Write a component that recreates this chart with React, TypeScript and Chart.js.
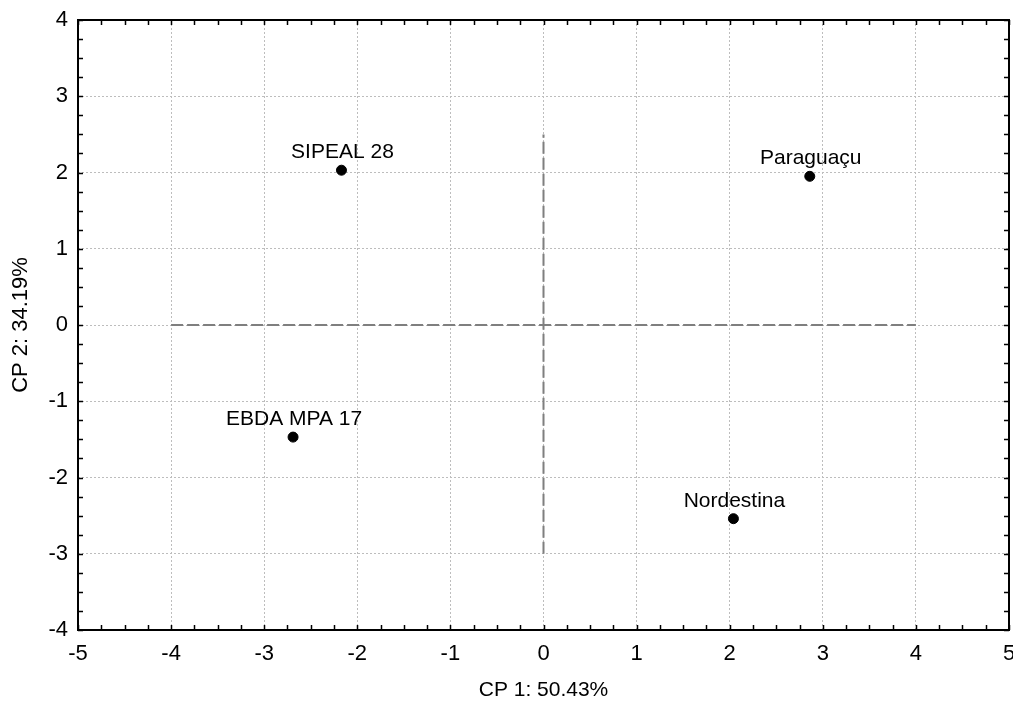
import React, { useEffect, useRef } from "react";
import { Chart, registerables } from "chart.js";

Chart.register(...registerables);

const genotypes = ["SIPEAL 28", "Paraguaçu", "EBDA MPA 17", "Nordestina"];
const cp1Values = [-2.17, 2.86, -2.69, 2.04];
const cp2Values = [2.03, 1.95, -1.47, -2.54];

const hRefX = [-4, 4];
const hRefY = [0, 0];
const vRefX = [0, 0];
const vRefY = [-3, 2.5];

const xAxisTitle = "CP 1: 50.43%";
const yAxisTitle = "CP 2: 34.19%";
const xRange = [-5, 5];
const yRange = [-4, 4];
const minorStep = 0.25;

const FONT = "'Liberation Sans', Arial, sans-serif";

const frameAndLabels = {
  id: "frameAndLabels",
  afterDatasetsDraw(chart: any) {
    const { ctx, chartArea, scales } = chart;
    const xs = scales.x;
    const ys = scales.y;
    ctx.save();
    const meta = chart.getDatasetMeta(2);
    ctx.fillStyle = "#000";
    ctx.font = `21px ${FONT}`;
    ctx.textAlign = "center";
    ctx.textBaseline = "alphabetic";
    meta.data.forEach((el: any, i: number) => {
      ctx.fillText(genotypes[i], el.x + 1, el.y - 12);
    });
    ctx.strokeStyle = "#000";
    ctx.lineWidth = 1.5;
    const len = 5;
    for (let v = xRange[0]; v <= xRange[1] + 1e-9; v += minorStep) {
      const px = Math.round(xs.getPixelForValue(v)) + 0.5;
      ctx.beginPath();
      ctx.moveTo(px, chartArea.bottom);
      ctx.lineTo(px, chartArea.bottom - len);
      ctx.moveTo(px, chartArea.top);
      ctx.lineTo(px, chartArea.top + len);
      ctx.stroke();
    }
    for (let v = yRange[0]; v <= yRange[1] + 1e-9; v += minorStep) {
      const py = Math.round(ys.getPixelForValue(v)) + 0.5;
      ctx.beginPath();
      ctx.moveTo(chartArea.left, py);
      ctx.lineTo(chartArea.left + len, py);
      ctx.moveTo(chartArea.right, py);
      ctx.lineTo(chartArea.right - len, py);
      ctx.stroke();
    }
    ctx.lineWidth = 2;
    ctx.strokeRect(
      chartArea.left,
      chartArea.top,
      chartArea.right - chartArea.left,
      chartArea.bottom - chartArea.top
    );
    ctx.restore();
  },
};

export default function App() {
  const canvasRef = useRef<HTMLCanvasElement | null>(null);

  useEffect(() => {
    if (!canvasRef.current) return;
    const points = cp1Values.map((x, i) => ({ x, y: cp2Values[i] }));
    const hLine = hRefX.map((x, i) => ({ x, y: hRefY[i] }));
    const vLine = vRefX.map((x, i) => ({ x, y: vRefY[i] }));

    const chart = new Chart(canvasRef.current, {
      type: "scatter",
      data: {
        datasets: [
          {
            data: hLine,
            showLine: true,
            borderColor: "#7f7f7f",
            borderWidth: 2,
            borderDash: [12, 4],
            pointRadius: 0,
          },
          {
            data: vLine,
            showLine: true,
            borderColor: "#7f7f7f",
            borderWidth: 2,
            borderDash: [12, 4],
            pointRadius: 0,
          },
          {
            data: points,
            backgroundColor: "#000",
            borderColor: "#000",
            pointRadius: 5,
            pointHoverRadius: 5,
          },
        ],
      } as any,
      options: {
        animation: false,
        responsive: true,
        maintainAspectRatio: false,
        devicePixelRatio: 1,
        layout: { autoPadding: false, padding: { top: 20, right: 4, left: 0, bottom: 0 } },
        plugins: {
          legend: { display: false },
          tooltip: { enabled: false },
        },
        scales: {
          x: {
            type: "linear",
            min: xRange[0],
            max: xRange[1],
            ticks: {
              stepSize: 1,
              color: "#000",
              padding: 11,
              font: { family: FONT, size: 22 },
            },
            grid: {
              color: "#bdbdbd",
              lineWidth: 1,
              drawTicks: false,
            },
            border: { display: false, dash: [2, 2] },
            title: {
              display: true,
              text: xAxisTitle,
              color: "#000",
              font: { family: FONT, size: 21, lineHeight: 1 },
              padding: { top: 0, bottom: 0 },
            },
            afterFit: (s: any) => {
              s.height = 71;
              s.paddingLeft = 0;
              s.paddingRight = 0;
            },
          },
          y: {
            type: "linear",
            min: yRange[0],
            max: yRange[1],
            ticks: {
              stepSize: 1,
              color: "#000",
              padding: 10,
              font: { family: FONT, size: 22 },
            },
            grid: {
              color: "#bdbdbd",
              lineWidth: 1,
              drawTicks: false,
            },
            border: { display: false, dash: [2, 2] },
            title: {
              display: true,
              text: yAxisTitle,
              color: "#000",
              font: { family: FONT, size: 22, lineHeight: 1 },
              padding: { top: 10, bottom: 0 },
            },
            afterFit: (s: any) => {
              s.width = 78;
              s.paddingTop = 0;
              s.paddingBottom = 0;
            },
          },
        },
      } as any,
      plugins: [frameAndLabels],
    });
    return () => chart.destroy();
  }, []);

  return (
    <div style={{ position: "absolute", left: 0, top: 0, width: 1013, height: 701, background: "#fff" }}>
      <canvas ref={canvasRef} />
    </div>
  );
}
